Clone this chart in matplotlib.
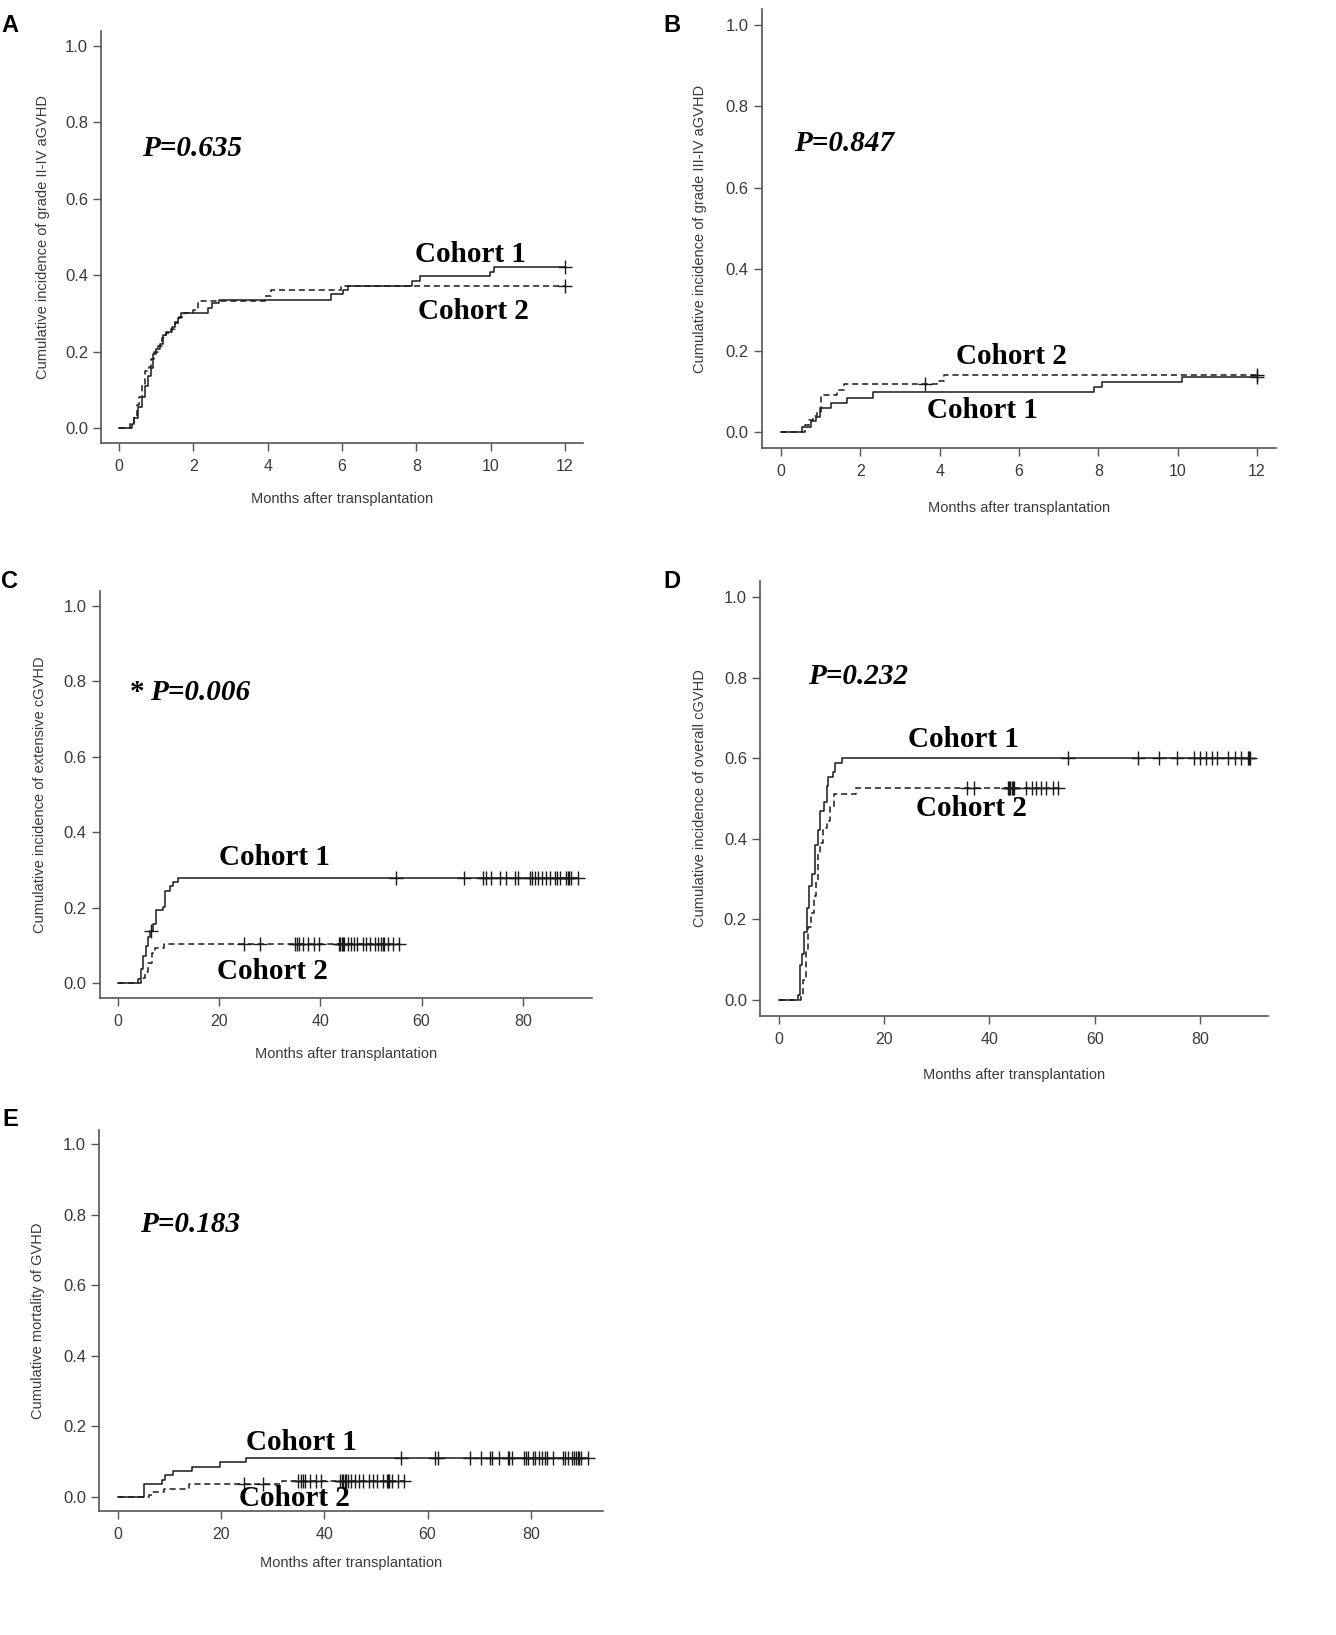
import numpy as np
import matplotlib
matplotlib.use('Agg')
from matplotlib import pyplot as plt

# ---- data (event times, cumulative values, censor times) ----
# A: grade II-IV aGVHD
a1_t = [0.34, 0.41, 0.51, 0.61, 0.69, 0.79, 0.85, 0.92, 0.99, 1.09, 1.17, 1.27, 1.43,
        1.51, 1.58, 1.68, 2.38, 2.50, 2.68, 5.71, 6.02, 6.17, 7.87, 8.11, 9.99, 10.09]
a1_v = [0.010, 0.027, 0.056, 0.081, 0.110, 0.136, 0.156, 0.194, 0.206, 0.219, 0.244, 0.252, 0.265,
        0.277, 0.287, 0.302, 0.315, 0.327, 0.336, 0.350, 0.361, 0.373, 0.384, 0.397, 0.409, 0.421]
a1_cens = [12.0]
a2_t = [0.30, 0.40, 0.48, 0.55, 0.62, 0.70, 0.80, 0.85, 0.95, 1.05, 1.15, 1.25, 1.40,
        1.50, 1.62, 1.75, 2.00, 2.12, 3.93, 4.10, 5.97]
a2_v = [0.010, 0.030, 0.060, 0.080, 0.110, 0.150, 0.160, 0.180, 0.200, 0.215, 0.235, 0.250, 0.260,
        0.275, 0.290, 0.300, 0.310, 0.333, 0.345, 0.360, 0.373]
a2_cens = [12.0]

# B: grade III-IV aGVHD
b1_t = [0.53, 0.76, 0.88, 0.98, 1.27, 1.67, 2.31, 7.88, 8.10, 10.10]
b1_v = [0.012, 0.026, 0.038, 0.060, 0.072, 0.084, 0.098, 0.111, 0.122, 0.134]
b1_cens = [12.0]
b2_t = [0.60, 0.70, 0.80, 0.90, 1.00, 1.42, 1.58, 3.92, 4.10]
b2_v = [0.018, 0.030, 0.040, 0.050, 0.092, 0.103, 0.117, 0.125, 0.140]
b2_cens = [3.63, 12.0]

# C: extensive cGVHD
c1_t = [4.0, 4.6, 5.0, 5.6, 6.0, 6.4, 6.9, 7.6, 8.8, 9.3, 10.3, 10.9, 11.9]
c1_v = [0.010, 0.037, 0.072, 0.098, 0.122, 0.139, 0.156, 0.194, 0.202, 0.245, 0.258, 0.268, 0.279]
c1_cens = [6.5, 54.9, 68.3, 72.2, 72.7, 73.8, 75.5, 76.6, 78.4, 79.0, 81.4, 81.9, 82.4, 83.1,
           83.8, 84.5, 85.3, 86.4, 86.8, 87.3, 88.6, 88.9, 89.2, 89.5, 90.9]
c2_t = [4.6, 5.4, 6.0, 6.7, 7.3, 9.0]
c2_v = [0.013, 0.028, 0.054, 0.079, 0.092, 0.102]
c2_cens = [24.9, 28.0, 35.0, 35.3, 35.7, 36.5, 37.6, 38.7, 39.8, 43.7, 43.9, 44.2, 44.4, 44.7,
           45.4, 46.0, 46.6, 47.3, 48.4, 49.0, 49.8, 50.7, 51.4, 52.0, 52.3, 52.5, 53.3, 54.4, 55.5]

# D: overall cGVHD
d1_t = [3.7, 4.0, 4.3, 4.7, 5.3, 5.7, 6.2, 6.8, 7.4, 7.8, 8.5, 9.1, 9.3, 10.2, 10.7, 12.0]
d1_v = [0.011, 0.087, 0.113, 0.168, 0.228, 0.283, 0.312, 0.385, 0.423, 0.469, 0.491, 0.531,
        0.554, 0.565, 0.588, 0.601]
d1_cens = [55.0, 68.3, 72.2, 75.6, 78.8, 80.0, 81.1, 82.3, 83.2, 85.4, 86.6, 87.9, 89.1, 89.3, 89.6]
d2_t = [4.1, 4.6, 5.1, 5.6, 6.1, 6.6, 7.0, 7.4, 7.8, 8.4, 9.1, 9.7, 10.4, 14.6]
d2_v = [0.011, 0.049, 0.121, 0.181, 0.215, 0.257, 0.295, 0.363, 0.389, 0.427, 0.444, 0.478,
        0.512, 0.525]
d2_cens = [35.7, 37.1, 43.6, 43.8, 44.0, 44.3, 44.5, 44.7, 47.0, 48.0, 48.8, 49.8, 50.8, 52.0, 53.1]

# E: mortality of GVHD
e1_t = [5.1, 8.5, 9.1, 10.6, 14.3, 19.8, 24.8]
e1_v = [0.036, 0.047, 0.062, 0.073, 0.085, 0.098, 0.109]
e1_cens = [54.9, 61.5, 62.0, 68.3, 70.4, 72.1, 72.5, 73.8, 75.5, 75.8, 76.4, 78.7, 79.1, 79.4,
           80.4, 80.9, 81.5, 82.1, 82.8, 83.2, 84.3, 86.2, 86.6, 87.3, 87.9, 88.4, 88.8, 89.1,
           89.3, 89.8, 91.0]
e2_t = [6.0, 6.5, 8.9, 13.7, 31.7]
e2_v = [0.005, 0.014, 0.023, 0.036, 0.045]
e2_cens = [24.5, 28.1, 34.9, 35.5, 35.8, 36.2, 37.2, 38.3, 39.4, 43.0, 43.4, 43.6, 43.9, 44.2,
           44.5, 45.1, 46.0, 46.8, 47.5, 48.7, 49.4, 50.2, 51.3, 52.1, 52.3, 52.5, 53.2, 54.2, 55.5]

ylabels = ['Cumulative incidence of grade II-IV aGVHD',
           'Cumulative incidence of grade III-IV aGVHD',
           'Cumulative incidence of extensive cGVHD',
           'Cumulative incidence of overall cGVHD',
           'Cumulative mortality of GVHD']
pvalues = ['P=0.635', 'P=0.847', 'P=0.006', 'P=0.232', 'P=0.183']
xlabel = 'Months after transplantation'

W, H = 1336, 1635
SANS = ['Liberation Sans', 'DejaVu Sans']
SERIF = ['Liberation Serif', 'DejaVu Serif']
AXCOL = '#555555'
TXTCOL = '#3a3a3a'
LINECOL = '#1a1a1a'


def _rect(left, right, top, bottom):
    # pixel box -> figure fraction
    return [left / W, 1 - bottom / H, (right - left) / W, (bottom - top) / H]


def _step_at(t, v, x):
    # value of the step curve at time x
    val = 0.0
    for ti, vi in zip(t, v):
        if ti <= x:
            val = vi
    return val


def _curve(ax, t, v, cens, dashed):
    end = max(cens) if cens else t[-1]
    xs = [0] + list(t) + [end]
    ys = [0] + list(v) + [v[-1]]
    ls = (0, (4, 2.5)) if dashed else '-'
    ax.plot(xs, ys, drawstyle='steps-post', color=LINECOL, lw=1.1, linestyle=ls)
    cy = [_step_at(t, v, c) for c in cens]
    ax.plot(cens, cy, linestyle='none', marker='+', ms=10, mew=1.0, color=LINECOL)


def _add_panel(fig, rect, xlim, xticks, ylabel, curves, texts, lab_off):
    ax = fig.add_axes(rect)
    for t, v, cens, dashed in curves:
        _curve(ax, t, v, cens, dashed)
    ax.set_xlim(*xlim)
    ax.set_ylim(-0.04, 1.04)
    ax.set_xticks(xticks)
    ax.set_yticks([0.0, 0.2, 0.4, 0.6, 0.8, 1.0])
    ax.set_yticklabels(['0.0', '0.2', '0.4', '0.6', '0.8', '1.0'])
    for s in ['top', 'right']:
        ax.spines[s].set_visible(False)
    for s in ['left', 'bottom']:
        ax.spines[s].set_color(AXCOL)
        ax.spines[s].set_linewidth(1.2)
    ax.tick_params(axis='both', direction='out', length=5.5, width=1.0, color=AXCOL,
                   labelcolor=TXTCOL)
    ax.tick_params(axis='y', labelsize=12, pad=4)
    ax.tick_params(axis='x', labelsize=11.5, pad=6)
    for lbl in ax.get_xticklabels() + ax.get_yticklabels():
        lbl.set_family(SANS)
    ax.set_ylabel(ylabel, fontsize=10.5, color=TXTCOL, family=SANS)
    ax.set_xlabel(xlabel, fontsize=10.5, color=TXTCOL, family=SANS)
    wpx = rect[2] * W
    hpx = rect[3] * H
    ax.yaxis.set_label_coords(-lab_off[0] / wpx, 0.5)
    ax.xaxis.set_label_coords(0.5, -lab_off[1] / hpx)
    for x, y, s, style in texts:
        ax.text(x, y, s, fontsize=21, fontweight='bold', fontstyle=style,
                family=SERIF, ha='left', va='center', color='black')
    return ax


fig = plt.figure(figsize=(W / 100, H / 100), dpi=100)

#top left
_add_panel(fig, _rect(101.2, 582.9, 30.7, 443.3), (-0.48, 12.48), range(0, 13, 2), ylabels[0],
           [(a1_t, a1_v, a1_cens, False), (a2_t, a2_v, a2_cens, True)],
           [(0.61, 0.731, pvalues[0], 'italic'), (7.96, 0.453, 'Cohort 1', 'normal'),
            (8.05, 0.305, 'Cohort 2', 'normal')], (51, 49))

#top right
_add_panel(fig, _rect(762, 1276, 8.7, 448.3), (-0.48, 12.48), range(0, 13, 2), ylabels[1],
           [(b1_t, b1_v, b1_cens, False), (b2_t, b2_v, b2_cens, True)],
           [(0.33, 0.710, pvalues[1], 'italic'), (4.40, 0.185, 'Cohort 2', 'normal'),
            (3.69, 0.053, 'Cohort 1', 'normal')], (55, 53))

#middle left
_add_panel(fig, _rect(99.8, 592.1, 591, 998), (-3.6, 93.7), range(0, 81, 20), ylabels[2],
           [(c1_t, c1_v, c1_cens, False), (c2_t, c2_v, c2_cens, True)],
           [(2.4, 0.771, '*', 'normal'), (6.4, 0.771, pvalues[2], 'italic'),
            (19.9, 0.332, 'Cohort 1', 'normal'), (19.5, 0.029, 'Cohort 2', 'normal')], (53, 49))

#middle right
_add_panel(fig, _rect(760.1, 1268.2, 581, 1016), (-3.6, 93.0), range(0, 81, 20), ylabels[3],
           [(d1_t, d1_v, d1_cens, False), (d2_t, d2_v, d2_cens, True)],
           [(5.5, 0.802, pvalues[3], 'italic'), (24.5, 0.647, 'Cohort 1', 'normal'),
            (26.1, 0.476, 'Cohort 2', 'normal')], (53, 52))

#bottom left
_add_panel(fig, _rect(99.4, 602.5, 1130, 1511), (-3.6, 93.9), range(0, 81, 20), ylabels[4],
           [(e1_t, e1_v, e1_cens, False), (e2_t, e2_v, e2_cens, True)],
           [(4.3, 0.772, pvalues[4], 'italic'), (24.9, 0.153, 'Cohort 1', 'normal'),
            (23.5, -0.005, 'Cohort 2', 'normal')], (54, 45))

#panel letters
for letter, (px, py) in zip('ABCDE', [(10, 25), (672, 25), (10, 582), (672, 582), (10, 1120)]):
    fig.text(px / W, 1 - py / H, letter, fontsize=17, fontweight='bold', family=SANS,
             ha='center', va='center')

fig.savefig('out.png', dpi=100, facecolor='white')
